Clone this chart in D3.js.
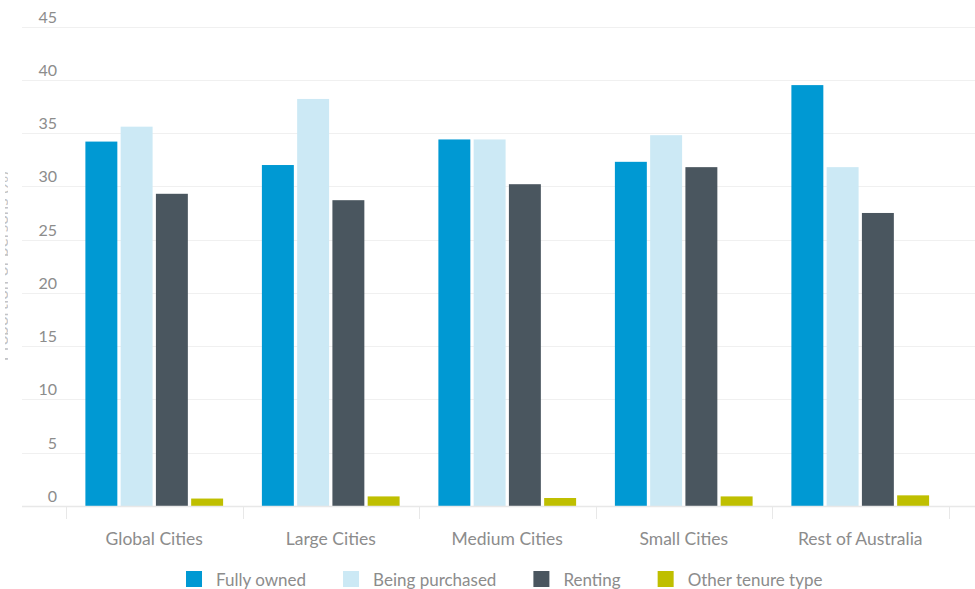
<!DOCTYPE html>
<html>
<head>
<meta charset="utf-8">
<script src="https://cdn.jsdelivr.net/npm/d3@7/dist/d3.min.js"></script>
<style>
  html, body { margin: 0; padding: 0; background: #fff; }
  svg { display: block; font-family: Lato, "Open Sans", sans-serif; }
</style>
</head>
<body>
<svg id="chart" width="975" height="589"></svg>
<script>
// Housing tenure by city type (% of persons)
const categories = ["Global Cities", "Large Cities", "Medium Cities", "Small Cities", "Rest of Australia"];
const seriesNames = ["Fully owned", "Being purchased", "Renting", "Other tenure type"];
const fullyOwned     = [34.2, 32.0, 34.4, 32.3, 39.5];
const beingPurchased = [35.6, 38.2, 34.4, 34.8, 31.8];
const renting        = [29.3, 28.7, 30.2, 31.8, 27.5];
const otherTenure    = [0.7, 0.9, 0.75, 0.9, 1.0];
const yTicks = [0, 5, 10, 15, 20, 25, 30, 35, 40, 45];
const yAxisTitle = "Proportion of persons (%)";

const seriesValues = [fullyOwned, beingPurchased, renting, otherTenure];
const colors = ["#0099d3", "#cce9f5", "#4a565f", "#bfbf00"];

const svg = d3.select("#chart");
const W = 975;
const plot = { left: 66, right: 948.5, top: 26.5, bottom: 506, gridLeft: 22 };
const textColor = "#8c8c8c";

const x0 = d3.scaleBand().domain(categories).range([plot.left, plot.right]).padding(0);
const x1 = d3.scaleBand().domain(seriesNames).range([0, x0.bandwidth()])
  .paddingInner(0.094).paddingOuter(0.55);
const y = d3.scaleLinear().domain([0, 45]).range([plot.bottom, plot.top]);
const color = d3.scaleOrdinal().domain(seriesNames).range(colors);

// horizontal gridlines
svg.append("g").selectAll("line").data(yTicks.filter(t => t > 0)).join("line")
  .attr("x1", plot.gridLeft).attr("x2", W)
  .attr("y1", d => Math.round(y(d)) + 0.5).attr("y2", d => Math.round(y(d)) + 0.5)
  .attr("stroke", "#f0f0f0").attr("stroke-width", 1);

// y tick labels, sitting just above each gridline
svg.append("g").selectAll("text").data(yTicks).join("text")
  .attr("x", 57).attr("y", d => y(d) - 4)
  .attr("text-anchor", "end")
  .attr("fill", textColor).attr("font-size", 16)
  .text(d => d);

// y axis title, only its edge shows at the left border
svg.append("defs").append("clipPath").attr("id", "titleClip")
  .append("rect").attr("x", 5).attr("y", 0).attr("width", 3).attr("height", 589);
svg.append("g").attr("clip-path", "url(#titleClip)")
  .append("text")
  .attr("transform", `translate(8,${(plot.top + plot.bottom) / 2}) rotate(-90)`)
  .attr("text-anchor", "middle")
  .attr("fill", "#c4c4c4").attr("font-size", 17)
  .text(yAxisTitle);

// bars
const groups = svg.append("g").selectAll("g").data(categories).join("g")
  .attr("transform", d => `translate(${x0(d)},0)`);
groups.selectAll("rect")
  .data((c, i) => seriesNames.map((s, k) => ({ s, v: seriesValues[k][i] })))
  .join("rect")
  .attr("x", d => x1(d.s))
  .attr("width", x1.bandwidth())
  .attr("y", d => y(d.v))
  .attr("height", d => y(0) - y(d.v))
  .attr("fill", d => color(d.s));

// x axis line, category boundary ticks and labels
svg.append("line")
  .attr("x1", plot.gridLeft).attr("x2", W)
  .attr("y1", plot.bottom + 0.5).attr("y2", plot.bottom + 0.5)
  .attr("stroke", "#e8e8e8").attr("stroke-width", 1.5);
const boundaries = categories.map(c => x0(c)).concat([x0(categories[categories.length - 1]) + x0.bandwidth()]);
svg.append("g").selectAll("line").data(boundaries).join("line")
  .attr("x1", d => Math.round(d) + 0.5).attr("x2", d => Math.round(d) + 0.5)
  .attr("y1", plot.bottom).attr("y2", plot.bottom + 13)
  .attr("stroke", "#e8e8e8").attr("stroke-width", 1);
svg.append("g").selectAll("text").data(categories).join("text")
  .attr("x", d => x0(d) + x0.bandwidth() / 2).attr("y", 545)
  .attr("text-anchor", "middle")
  .attr("fill", textColor).attr("font-size", 17.5)
  .text(d => d);

// legend, centred under the plot
const legend = svg.append("g");
const items = legend.selectAll("g").data(seriesNames).join("g");
items.append("rect").attr("width", 16).attr("height", 16).attr("y", 571)
  .attr("fill", d => color(d));
items.append("text").attr("x", 30).attr("y", 585.5)
  .attr("fill", textColor).attr("font-size", 17)
  .text(d => d);
const legendGap = 37;
let cursor = 0;
items.each(function () {
  const g = d3.select(this);
  g.attr("transform", `translate(${cursor},0)`);
  cursor += 30 + g.select("text").node().getComputedTextLength() + legendGap;
});
const legendWidth = cursor - legendGap;
legend.attr("transform", `translate(${(plot.left + plot.right) / 2 - legendWidth / 2 - 3},0)`);
</script>
</body>
</html>
